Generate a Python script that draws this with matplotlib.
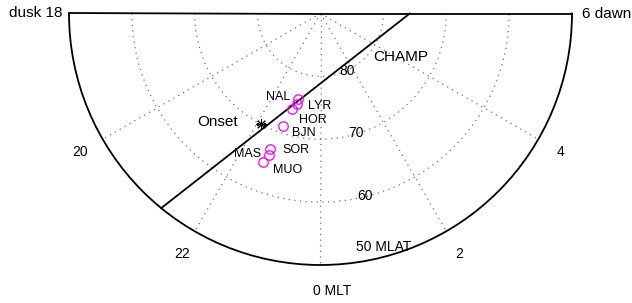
import numpy as np
import matplotlib
matplotlib.use("Agg")
import matplotlib.pyplot as plt

plt.rcParams['font.family'] = ['Liberation Sans', 'DejaVu Sans']

# ground magnetometer stations (MLT hours, MLAT degrees)
stations = ['NAL', 'LYR', 'HOR', 'BJN', 'SOR', 'MAS', 'MUO']
station_mlt = [23.00, 23.02, 22.88, 22.78, 22.64, 22.68, 22.59]
station_mlat = [76.0, 75.1, 74.1, 71.2, 67.0, 66.0, 64.6]

# substorm onset location
onset_mlt = [22.12]
onset_mlat = [70.0]

# CHAMP pass
champ_mlt = [21.38, 6.0]
champ_mlat = [50.0, 75.8]

mlat_rings = [80, 70, 60]
mlt_grid = [20, 22, 0, 2, 4]


def theta(mlt):
    """MLT hours -> polar angle in radians, dusk side negative."""
    mlt = np.asarray(mlt, dtype=float)
    mlt = np.where(mlt > 12, mlt - 24, mlt)
    return np.deg2rad(mlt * 15.0)


def colat(mlat):
    return 90.0 - np.asarray(mlat, dtype=float)


fig = plt.figure(figsize=(6.32, 3.03), dpi=100)
W, H = 632.0, 303.0
R = 251.5
cx, cy = 320.5, 13.5   # pole position in pixels (from top)
# half disc sits in a square box, pole at 3/4 of its height
ax = fig.add_axes([(cx - R) / W, (H - (cy + 1.5 * R)) / H, 2 * R / W, 2 * R / H],
                  projection='polar')
ax.set_theta_zero_location('S')
ax.set_theta_direction(1)
ax.set_thetamin(-90)
ax.set_thetamax(90)
ax.set_rlim(0, 40)

ax.set_thetagrids([(m - 24 if m > 12 else m) * 15 for m in mlt_grid], labels=[''] * len(mlt_grid))
ax.set_rgrids(list(colat(mlat_rings)), labels=[''] * len(mlat_rings))
ax.grid(True, color='0.45', linestyle=(0, (1, 3.5)), linewidth=0.9)
for sp in ax.spines.values():
    sp.set_color('black')
    sp.set_linewidth(1.3)
ax.tick_params(length=0)

# CHAMP track
ax.plot(theta(champ_mlt), colat(champ_mlat), color='black', lw=1.3, clip_on=False)
ax.text(theta(3.36), 10.84, 'CHAMP', ha='left', va='center', fontsize=11)

# stations
ax.plot(theta(station_mlt), colat(station_mlat), 'o', mfc='none', mec='#ff00ff',
        ms=6.8, mew=0.9, zorder=4)
label_offsets = [(-7, 2, 'right'), (11, -2, 'left'), (7, -11, 'left'), (9, -7, 'left'),
                 (12, -1, 'left'), (-8, 1, 'right'), (10, -8, 'left')]
for name, m, lat, (ox, oy, ha) in zip(stations, station_mlt, station_mlat, label_offsets):
    ax.annotate(name, (theta(m), colat(lat)), xytext=(ox, oy), textcoords='offset pixels',
                ha=ha, va='center', fontsize=9)

# onset
ax.plot(theta(onset_mlt), colat(onset_mlat), marker=(8, 2, 0), color='black',
        ms=7.5, mew=0.75, ls='none', zorder=4)
ax.annotate('Onset', (theta(onset_mlt[0]), colat(onset_mlat[0])), xytext=(-23, 2),
            textcoords='offset pixels', ha='right', va='center', fontsize=11)

# MLAT ring labels
ax.text(theta(1.65), 10.07, '80', ha='center', va='center', fontsize=10)
ax.text(theta(1.09), 19.8, '70', ha='center', va='center', fontsize=10)
ax.text(theta(0.91), 29.9, '60', ha='center', va='center', fontsize=10)
ax.text(theta(1.01), 38.5, '50 MLAT', ha='center', va='center', fontsize=10)

# MLT labels
ax.text(theta(18), 41.1, 'dusk 18', ha='right', va='center', fontsize=11)
ax.text(theta(6), 41.6, '6 dawn', ha='left', va='center', fontsize=11)
for m in [20, 22, 2, 4]:
    ax.text(theta(m), 44.1, str(m), ha='center', va='center', fontsize=10)
ax.text(theta(0.16), 44.1, '0 MLT', ha='center', va='center', fontsize=10)

fig.savefig('out.png', dpi=100)
